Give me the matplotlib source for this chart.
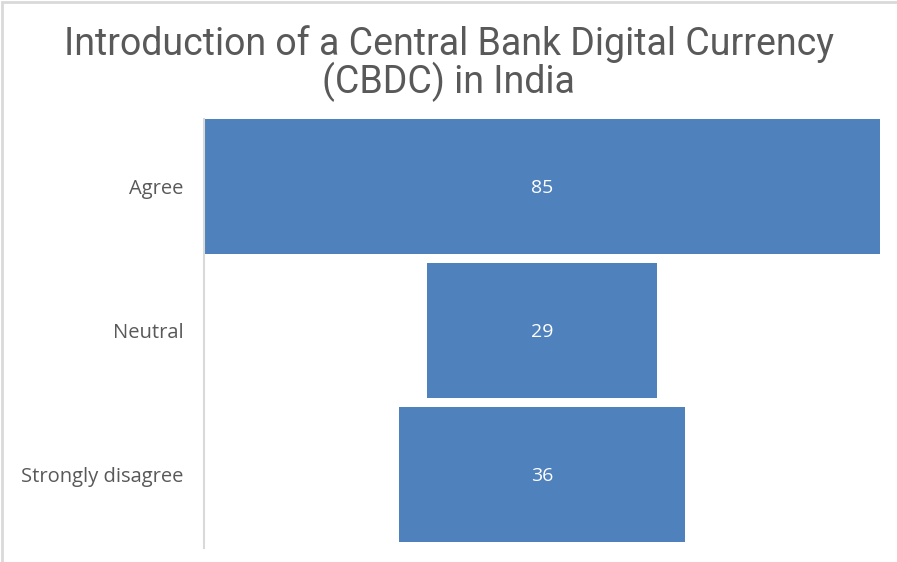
import matplotlib.pyplot as plt
from matplotlib.patches import Rectangle

# Survey responses on introducing a CBDC in India
categories = ['Agree', 'Neutral', 'Strongly disagree']
counts = [85, 29, 36]
title_lines = ['Introduction of a Central Bank Digital Currency', '(CBDC) in India']

fig = plt.figure(figsize=(8.97, 5.62), dpi=100)
ax = fig.add_axes([204 / 897, 1 - 548 / 562, 676 / 897, 429 / 562])

# funnel: every bar centred on zero
lefts = [-c / 2 for c in counts]
ypos = list(range(len(categories)))
bars = ax.barh(ypos, counts, left=lefts, height=135 / 144, color='#4f81bd')

for y, c in zip(ypos, counts):
    ax.text(0, y + 0.012, str(c), ha='center', va='center', color='white',
            fontsize=14, family='Open Sans')

ax.set_xlim(-max(counts) / 2, max(counts) / 2)
ax.set_ylim(2 + 73.5 / 144, -67.5 / 144)
ax.set_yticks(ypos)
ax.set_yticklabels(categories, fontsize=14.5, family='Open Sans', color='#595959')
ax.tick_params(axis='y', length=0, pad=15)
ax.set_xticks([])
for side in ['top', 'right', 'bottom']:
    ax.spines[side].set_visible(False)
ax.spines['left'].set_color('#d9d9d9')
ax.spines['left'].set_linewidth(1.5)

# two-line title, one baseline per line
for i, line in enumerate(title_lines):
    fig.text(0.5, 1 - (55 + 38 * i) / 562, line, ha='center', va='baseline',
             fontsize=27, color='#595959', family='Roboto')

# light chart-area border
fig.patches.append(Rectangle((2 / 897, -0.1), 1.2, 1.1 - 2 / 562, transform=fig.transFigure,
                             fill=False, edgecolor='#d9d9d9', linewidth=2))

fig.savefig('out.png', dpi=100)
